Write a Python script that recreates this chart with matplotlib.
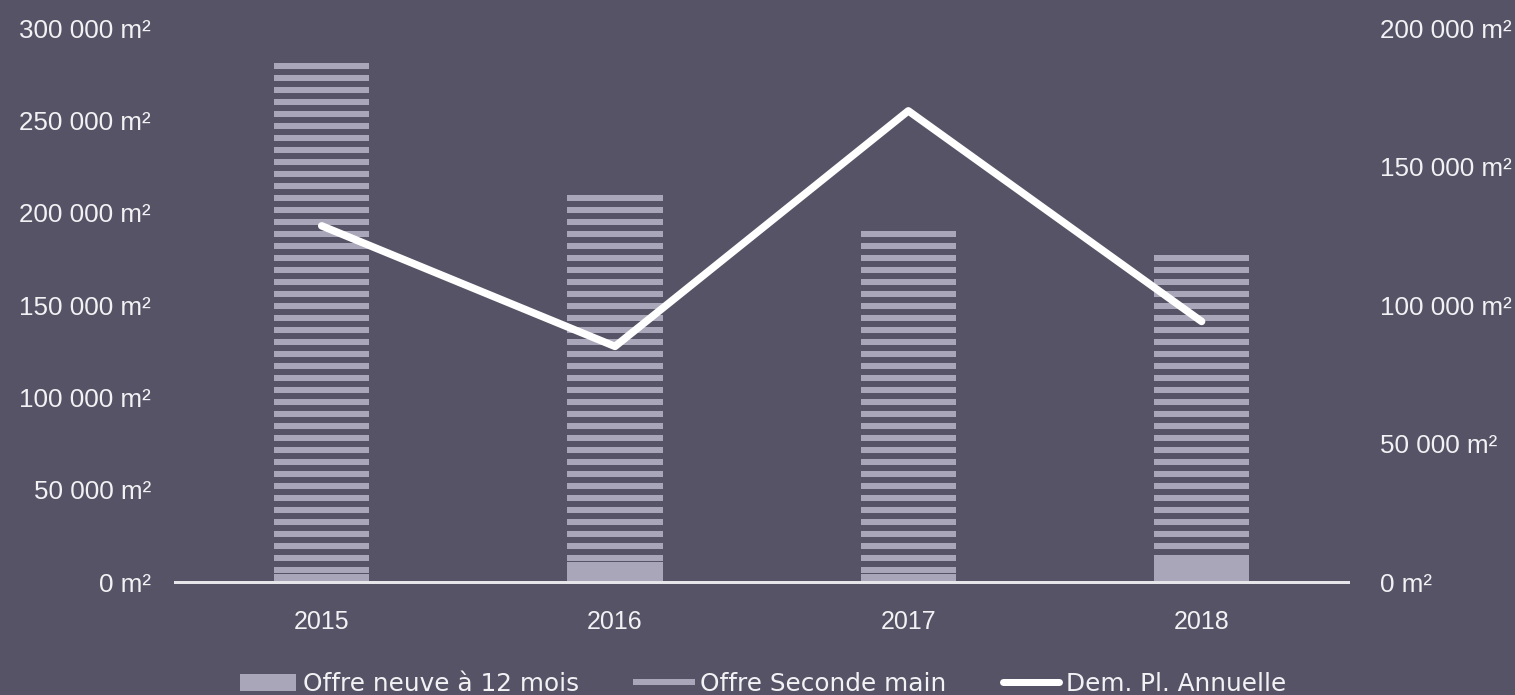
import matplotlib
matplotlib.use("Agg")
import matplotlib.pyplot as plt
from matplotlib.lines import Line2D
from matplotlib.patches import Patch
from matplotlib.ticker import FuncFormatter

years = ["2015", "2016", "2017", "2018"]
offre_neuve = [4500, 11000, 4500, 12000]
offre_seconde = [277000, 201000, 187000, 167000]
demande = [128500, 85000, 170000, 94000]
left_ticks = [0, 50000, 100000, 150000, 200000, 250000, 300000]
right_ticks = [0, 50000, 100000, 150000, 200000]

DPI = 144
W, H = 1515, 695
def pt(px):
    return px * 72.0 / DPI

BG = "#575366"
BAR = "#a8a6b8"
TXT = "#f2f2f5"
AXIS = "#e6e6ea"

plt.rcParams["font.family"] = ["Liberation Sans", "DejaVu Sans"]
plt.rcParams["hatch.linewidth"] = pt(6)

fig = plt.figure(figsize=((W + 0.3) / DPI, (H + 0.3) / DPI), dpi=DPI, facecolor=BG)
ax = fig.add_axes([175 / W, 113 / H, (1348 - 175) / W, (582 - 28) / H])
ax.set_facecolor(BG)
ax2 = ax.twinx()

x = list(range(len(years)))
bw = 0.325
ax.bar(x, offre_neuve, width=bw, color=BAR, linewidth=0, zorder=2)
ax.bar(x, offre_seconde, width=bw, bottom=offre_neuve, facecolor="none",
       edgecolor=BAR, hatch="--", linewidth=0, zorder=2)

ax2.plot(x, demande, color="white", lw=pt(7.5), solid_capstyle="round",
         solid_joinstyle="round", zorder=3)

ax.set_xlim(-0.5, 3.5)
ax.set_ylim(0, 300000)
ax2.set_ylim(0, 200000)

fmt = FuncFormatter(lambda v, p: ("{:,}".format(int(v)).replace(",", " ") + " m²"))
ax.set_yticks(left_ticks)
ax2.set_yticks(right_ticks)
ax.yaxis.set_major_formatter(fmt)
ax2.yaxis.set_major_formatter(fmt)
ax.set_xticks(x)
ax.set_xticklabels(years)

fs = pt(26)
ax.tick_params(axis="y", length=0, pad=pt(24), labelsize=fs, labelcolor=TXT)
ax2.tick_params(axis="y", length=0, pad=pt(32), labelsize=fs, labelcolor=TXT)
ax.tick_params(axis="x", length=0, pad=pt(28), labelsize=pt(25), labelcolor=TXT)

for a in (ax, ax2):
    for s in a.spines.values():
        s.set_visible(False)
ax.spines["bottom"].set_visible(True)
ax.spines["bottom"].set_color(AXIS)
ax.spines["bottom"].set_linewidth(pt(3))
ax.spines["bottom"].set_zorder(5)

handles = [
    Patch(facecolor=BAR, edgecolor="none"),
    Line2D([0], [0], color=BAR, lw=pt(6)),
    Line2D([0], [0], color="white", lw=pt(7), solid_capstyle="round"),
]
labels = ["Offre neuve à 12 mois", "Offre Seconde main", "Dem. Pl. Annuelle"]
leg = fig.legend(handles, labels, loc="center", bbox_to_anchor=(763 / W, 1 - 684 / H),
                 ncol=3, frameon=False, handlelength=2.27,
                 handleheight=0.68, handletextpad=0.3, columnspacing=2.3,
                 prop={"family": ["DejaVu Sans"], "size": pt(24.7)})
for t in leg.get_texts():
    t.set_color(TXT)

fig.savefig("out.png", dpi=DPI, facecolor=BG)
